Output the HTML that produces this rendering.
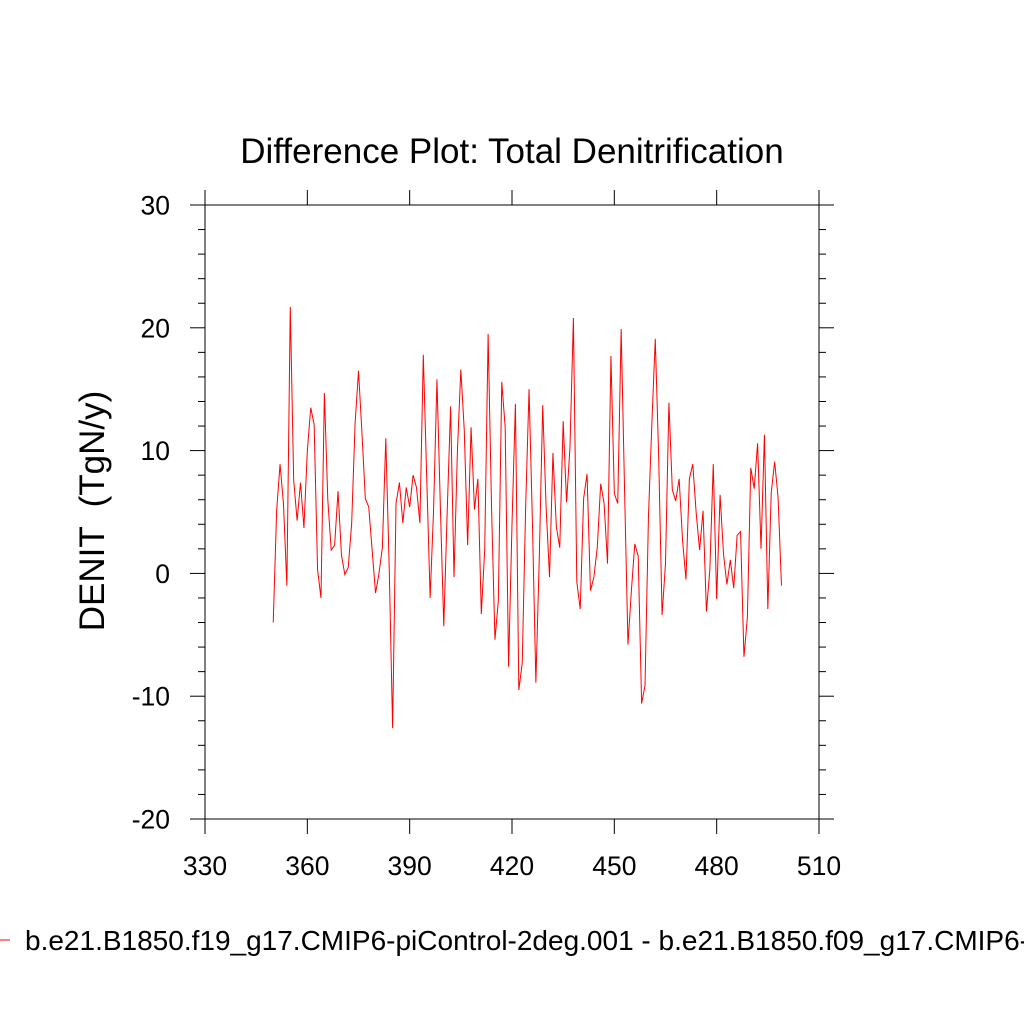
<!DOCTYPE html>
<html><head><meta charset="utf-8"><style>
body{margin:0;background:#fff}
svg{display:block;font-family:"Liberation Sans",sans-serif}
</style></head><body>
<svg id="chart" width="1024" height="1024">
<text x="512" y="163" font-size="35" text-anchor="middle">Difference Plot: Total Denitrification</text>
<text transform="translate(104,511) rotate(-90)" font-size="35" text-anchor="middle" style="white-space:pre">DENIT  (TgN/y)</text>
<g id="axes"></g>
<polyline id="series" fill="none" stroke="#ff0000" stroke-width="1"></polyline>
<line x1="0" y1="940" x2="10" y2="940" stroke="#ff0000" stroke-width="1"/>
<text x="25" y="950" font-size="28">b.e21.B1850.f19_g17.CMIP6-piControl-2deg.001 - b.e21.B1850.f09_g17.CMIP6-piControl.001</text>
</svg>
<script>
const startYear = 350;
const values = [-4.0,5.1,8.9,5.7,-1.0,21.7,7.6,4.3,7.4,3.7,10.0,13.5,12.1,0.3,-2.0,14.7,6.0,1.9,2.3,6.7,1.5,-0.1,0.5,4.1,12.2,16.5,11.5,6.1,5.4,1.9,-1.6,0.0,2.1,11.0,0.5,-12.6,5.7,7.4,4.1,7.0,5.4,8.0,7.0,4.1,17.8,7.8,-2.0,5.1,15.8,5.4,-4.3,5.0,13.6,-0.3,10.0,16.6,11.7,2.3,11.9,5.2,7.7,-3.3,1.9,19.5,5.4,-5.4,-2.2,15.6,11.9,-7.6,4.0,13.8,-9.5,-7.3,5.4,15.0,4.0,-8.9,1.3,13.7,5.4,-0.3,9.8,3.8,2.1,12.4,5.8,10.3,20.8,-0.7,-2.9,6.1,8.1,-1.4,-0.3,2.1,7.3,5.7,0.8,17.7,6.5,5.7,19.9,6.8,-5.8,-1.4,2.4,1.4,-10.6,-9.1,4.6,12.2,19.1,9.5,-3.4,0.8,13.9,6.8,5.9,7.7,2.7,-0.5,7.7,8.9,4.9,1.9,5.1,-3.1,0.3,8.9,-2.1,6.4,1.6,-0.9,1.1,-1.2,3.1,3.4,-6.8,-3.6,8.6,6.9,10.6,2.0,11.3,-2.9,6.6,9.1,6.2,-1.0];
const xTicks = [330,360,390,420,450,480,510];
const yTicks = [-20,-10,0,10,20,30];
const xMin=330,xMax=510,yMin=-20,yMax=30;
const L=205,R=819,T=205,B=819;
const sx=v=>L+(v-xMin)/(xMax-xMin)*(R-L);
const sy=v=>B-(v-yMin)/(yMax-yMin)*(B-T);
const NS="http://www.w3.org/2000/svg";
const g=document.getElementById('axes');
function mk(tag,attrs){const e=document.createElementNS(NS,tag);for(const k in attrs)e.setAttribute(k,attrs[k]);g.appendChild(e);return e;}
const box=mk('rect',{x:L,y:T,width:R-L,height:B-T,fill:'none',stroke:'#000','stroke-width':1});


xTicks.forEach(v=>{
  const x=sx(v);
  const t1=mk('line',{x1:x,y1:B,x2:x,y2:B+15,stroke:'#000'});
  
  
  const t2=mk('line',{x1:x,y1:T,x2:x,y2:T-15,stroke:'#000'});
  
  
  const tx=mk('text',{x:x,y:875,'font-size':26.5,'text-anchor':'middle'});
  tx.textContent=v;
  
  
});
for(let v=yMin;v<=yMax;v+=2){
  const y=sy(v);const major=(v%10===0);const len=major?15:7;
  const a=mk('line',{x1:L,y1:y,x2:L-len,y2:y,stroke:'#000'});
  
  
  const b=mk('line',{x1:R,y1:y,x2:R+len,y2:y,stroke:'#000'});
  
  
}
yTicks.forEach(v=>{
  const t=mk('text',{x:170,y:sy(v)+9.5,'font-size':26.5,'text-anchor':'end'});
  t.textContent=v;
  
  
});
document.getElementById('series').setAttribute('points',values.map((v,i)=>sx(startYear+i)+','+sy(v)).join(' '));
</script>
</body></html>
